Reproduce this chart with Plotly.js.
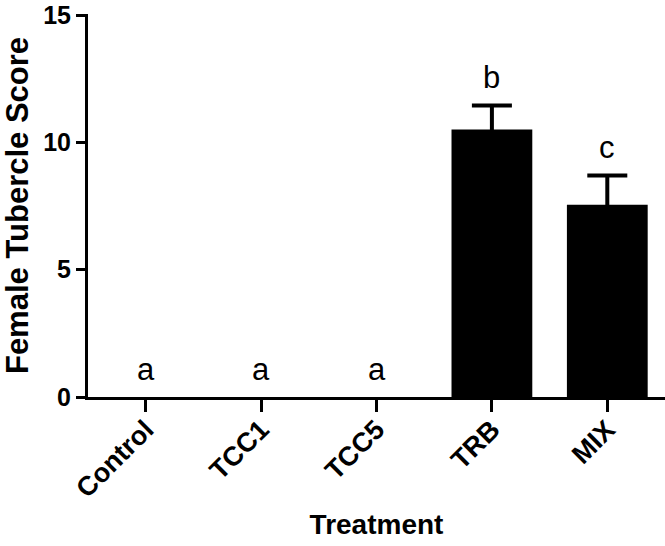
<!DOCTYPE html>
<html>
<head>
<meta charset="utf-8">
<script src="https://cdn.plot.ly/plotly-3.0.1.min.js"></script>
<style>html,body{margin:0;padding:0;background:#fff;}#chart{width:665px;height:546px;}</style>
</head>
<body>
<div id="chart"></div>
<script>
var categories = ["Control", "TCC1", "TCC5", "TRB", "MIX"];
var means = [0, 0, 0, 10.5, 7.55];
var sems = [0, 0, 0, 0.95, 1.15];
var letters = ["a", "a", "a", "b", "c"];
var yTicks = [0, 5, 10, 15];

var FONT = "Liberation Sans, Arial, sans-serif";

// points that actually carry an error bar
var errIdx = sems.map(function(s, i){ return s > 0 ? i : -1; }).filter(function(i){ return i >= 0; });

var bars = {
  type: "bar",
  x: categories,
  y: means,
  width: 0.7,
  marker: {color: "#000000", line: {width: 0}},
  hoverinfo: "none"
};

var errTrace = {
  type: "scatter",
  mode: "markers",
  x: errIdx.map(function(i){ return categories[i]; }),
  y: errIdx.map(function(i){ return means[i]; }),
  marker: {size: 1, color: "#000", opacity: 0},
  error_y: {
    type: "data",
    array: errIdx.map(function(i){ return sems[i]; }),
    arrayminus: errIdx.map(function(i){ return sems[i] * 0.5; }),
    symmetric: false,
    color: "#000000",
    thickness: 4,
    width: 20
  },
  hoverinfo: "none"
};

var annotations = categories.map(function(c, i){
  return {
    x: c, y: means[i] + sems[i], xref: "x", yref: "y",
    text: letters[i], showarrow: false,
    yanchor: "bottom", yshift: 8,
    font: {family: FONT, size: 31, color: "#000"}
  };
});

var layout = {
  width: 665, height: 546,
  margin: {l: 88, r: 0, t: 14, b: 149},
  paper_bgcolor: "#fff", plot_bgcolor: "#fff",
  showlegend: false,
  xaxis: {
    type: "category",
    range: [-0.5, 4.5],
    showline: true, linecolor: "#000", linewidth: 3,
    ticks: "outside", ticklen: 12, tickwidth: 3, tickcolor: "#000",
    tickangle: -45,
    ticklabelstandoff: -9,
    tickfont: {family: FONT, size: 27, color: "#000", weight: "bold"},
    showgrid: false, zeroline: false,
    title: {text: "<b>Treatment</b>", font: {family: FONT, size: 28, color: "#000"}, standoff: 12}
  },
  yaxis: {
    range: [0, 15.04],
    tickvals: yTicks,
    ticklabeloverflow: "allow",
    showline: true, linecolor: "#000", linewidth: 3,
    ticks: "outside", ticklen: 9, tickwidth: 3, tickcolor: "#000",
    tickfont: {family: FONT, size: 25, color: "#000", weight: "bold"},
    showgrid: false, zeroline: false,
    title: {text: "<b>Female Tubercle Score</b>", font: {family: FONT, size: 31, color: "#000"}, standoff: 6}
  },
  annotations: annotations
};

Plotly.newPlot("chart", [bars, errTrace], layout, {displayModeBar: false, staticPlot: true});
</script>
</body>
</html>
